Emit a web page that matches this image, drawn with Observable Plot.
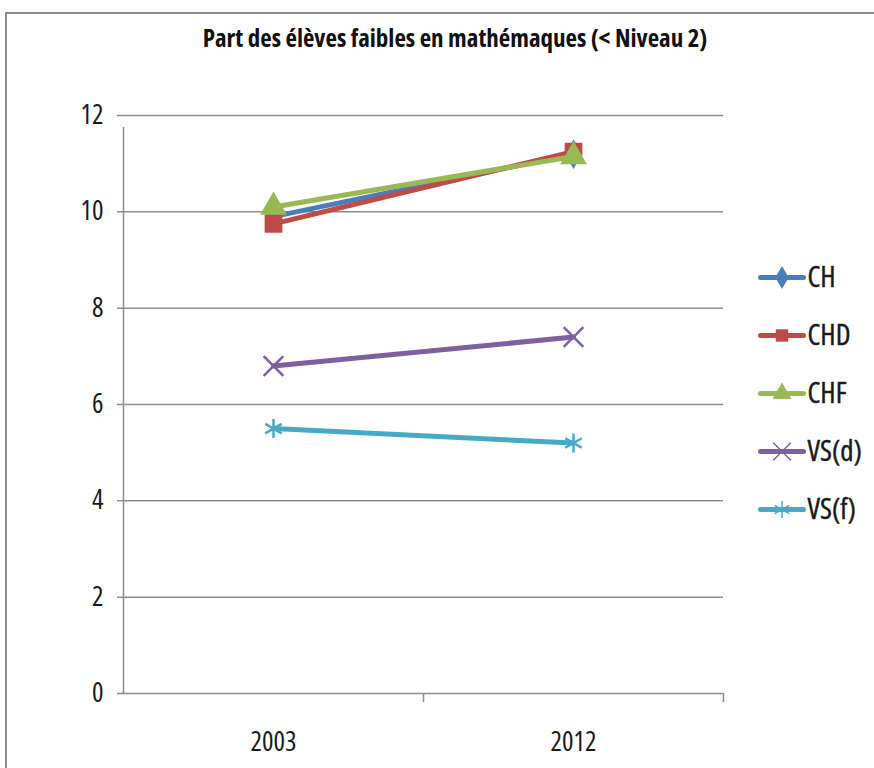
<!DOCTYPE html>
<html><head><meta charset="utf-8">
<script src="https://cdn.jsdelivr.net/npm/d3@7"></script>
<script src="https://cdn.jsdelivr.net/npm/@observablehq/plot@0.6"></script>
<style>
html,body{margin:0;padding:0;background:#fff;}
#wrap{position:relative;width:874px;height:768px;overflow:hidden;font-family:"Open Sans",sans-serif;font-stretch:condensed;}
#border{position:absolute;left:5px;top:12px;width:880px;height:770px;border:2px solid #8c8c8c;box-sizing:border-box;}
#title{position:absolute;left:0;width:910px;top:20px;text-align:center;font-weight:bold;font-size:25px;line-height:34px;color:#111;}
#chart{position:absolute;left:0;top:0;}
#legend{position:absolute;left:740px;top:250px;}
svg text{font-stretch:condensed;}
</style></head>
<body><div id="wrap"><div id="border"></div><div id="chart"></div><div id="legend"></div><div id="title">Part des élèves faibles en mathémaques (&lt; Niveau 2)</div></div>
<script>
const years = ["2003", "2012"];
const series = ["CH", "CHD", "CHF", "VS(d)", "VS(f)"];
const values = {
  "CH": [9.9, 11.2],
  "CHD": [9.75, 11.25],
  "CHF": [10.1, 11.15],
  "VS(d)": [6.8, 7.4],
  "VS(f)": [5.5, 5.2]
};
const colors = ["#4a7ebb", "#be4b48", "#98b954", "#7d60a0", "#46aac5"];
const symbols = ["diamond", "square", "triangle", "times", "asterisk"];
const yTicks = [0, 2, 4, 6, 8, 10, 12];

const data = series.flatMap((s, k) => years.map((yr, i) => ({s, k, i: i + 0.5, v: values[s][i]})));
const fontStyle = {fontFamily: "'Open Sans',sans-serif", fontStretch: "condensed", background: "transparent", overflow: "visible"};
const txt = {fontSize: 27, fill: "#1a1a1a", stroke: "#1a1a1a", strokeWidth: 0.4};

const marks = [
  Plot.ruleY(yTicks, {stroke: "#8c8c8c", strokeWidth: 1.5, insetLeft: -6}),
  Plot.ruleX([0], {y1: 0, y2: 12, stroke: "#8c8c8c", strokeWidth: 1.5, insetBottom: -12}),
  Plot.ruleX([1, 2], {y1: 0, y2: 0, stroke: "#8c8c8c", strokeWidth: 1.5, insetBottom: -9}),
  Plot.axisY(yTicks, {label: null, tickSize: 0, tickPadding: 20, ...txt}),
  Plot.axisX([0.5, 1.5], {label: null, tickSize: 0, tickPadding: 38, ...txt, tickFormat: d => years[Math.round(d - 0.5)]})
];
series.forEach((s, k) => {
  const d = data.filter(e => e.s === s);
  marks.push(Plot.line(d, {x: "i", y: "v", stroke: colors[k], strokeWidth: 5}));
  marks.push(Plot.dot(d, k < 3
    ? {x: "i", y: "v", symbol: () => symbols[k], fill: colors[k], r: k === 0 ? 9 : 10}
    : {x: "i", y: "v", symbol: () => symbols[k], stroke: colors[k], strokeWidth: 2.5, r: 9}));
});

const chart = Plot.plot({
  width: 874, height: 768,
  marginLeft: 123, marginRight: 151, marginTop: 115, marginBottom: 75,
  x: {domain: [0, 2], axis: null},
  y: {domain: [0, 12], axis: null},
  symbol: {type: "identity"},
  style: fontStyle,
  marks
});
document.getElementById("chart").appendChild(chart);

const leg = series.flatMap(s => [{s, x: 0}, {s, x: 1}]);
const legMarks = [];
series.forEach((s, k) => {
  const d = leg.filter(e => e.s === s);
  legMarks.push(Plot.line(d, {x: "x", y: "s", stroke: colors[k], strokeWidth: 5}));
  const mid = [{s, x: 0.5}];
  legMarks.push(Plot.dot(mid, k < 3
    ? {x: "x", y: "s", symbol: () => symbols[k], fill: colors[k], r: 7}
    : {x: "x", y: "s", symbol: () => symbols[k], stroke: colors[k], strokeWidth: 1.5, r: 8}));
});
legMarks.push(Plot.text(series, {x: () => 1, y: d => d, text: d => d, textAnchor: "start", dx: 4, ...txt, fontSize: 29}));
const legend = Plot.plot({
  width: 134, height: 280, margin: 0,
  x: {domain: [0, 1], range: [20, 63], axis: null},
  y: {type: "point", domain: series, range: [27, 259], padding: 0, axis: null},
  symbol: {type: "identity"},
  style: fontStyle,
  marks: legMarks
});
document.getElementById("legend").appendChild(legend);
</script></body></html>
